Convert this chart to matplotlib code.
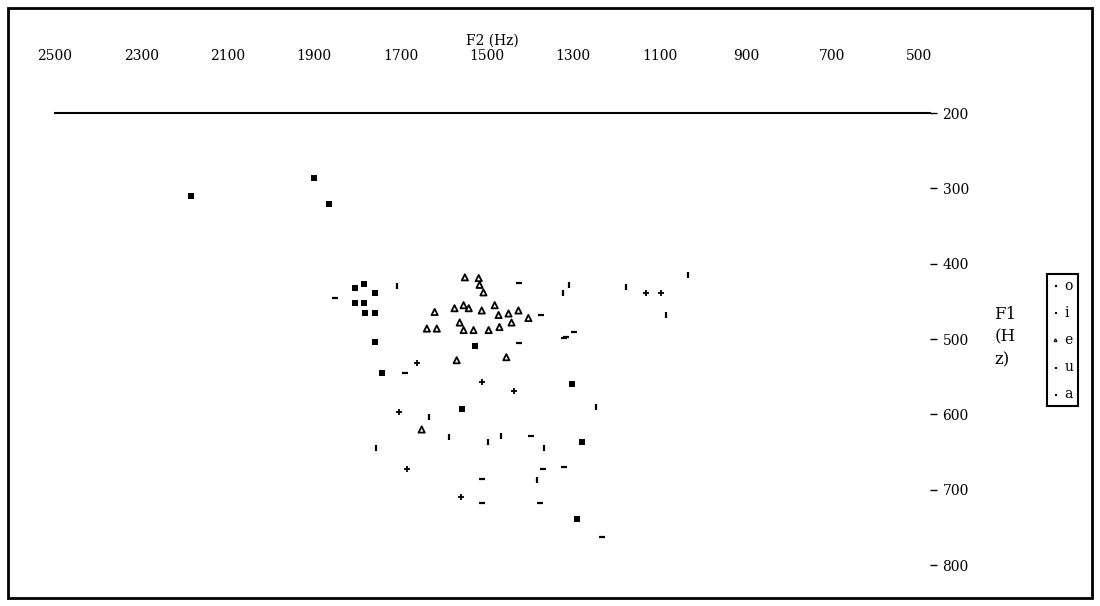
import matplotlib
matplotlib.use("Agg")
import matplotlib.pyplot as plt
from matplotlib.patches import Rectangle

plt.rcParams['font.family'] = ['DejaVu Serif']

# vowel groups: (F2, F1) in Hz
i_f2 = [2186, 1900, 1865, 1785, 1805, 1759, 1805, 1785, 1782, 1759, 1759, 1743,
        1528, 1304, 1279, 1291, 1558]
i_f1 = [310, 286, 321, 427, 432, 439, 452, 452, 466, 466, 504, 545,
        509, 559, 637, 739, 593]

e_f2 = [1551, 1519, 1517, 1508, 1621, 1639, 1616, 1575, 1554, 1542, 1563, 1554,
        1531, 1512, 1496, 1482, 1473, 1471, 1450, 1443, 1427, 1404, 1570, 1455, 1651]
e_f1 = [418, 419, 428, 438, 464, 486, 486, 459, 455, 459, 478, 488,
        488, 462, 488, 455, 468, 484, 466, 478, 462, 472, 528, 524, 620]

a_f2 = [1662, 1097, 1704, 1512, 1685, 1561, 1438, 1131]
a_f1 = [532, 439, 597, 557, 673, 710, 569, 439]

u_f2 = [1708, 1323, 1311, 1178, 1035, 1085, 1247, 1635, 1588, 1498, 1468, 1367, 1383, 1757]
u_f1 = [430, 439, 428, 431, 415, 468, 590, 604, 630, 637, 628, 644, 687, 645]

o_f2 = [1851, 1690, 1374, 1321, 1298, 1425, 1425, 1316, 1399, 1371, 1321, 1512,
        1512, 1378, 1233]
o_f1 = [446, 545, 468, 499, 491, 426, 505, 497, 628, 673, 670, 686,
        717, 717, 763]

x_ticks = [2500, 2300, 2100, 1900, 1700, 1500, 1300, 1100, 900, 700, 500]
y_ticks = [200, 300, 400, 500, 600, 700, 800]

fig = plt.figure(figsize=(11, 6.06), dpi=100)
ax = fig.add_axes([0.05, 0.0264, 0.7955, 0.787])

h_o = ax.scatter(o_f2, o_f1, marker='_', s=16, color='k', linewidths=1.6)
h_i = ax.scatter(i_f2, i_f1, marker='s', s=18, color='k', linewidths=0)
h_e = ax.scatter(e_f2, e_f1, marker='^', s=20, facecolor='none', edgecolor='k', linewidths=1.3)
h_u = ax.scatter(u_f2, u_f1, marker='|', s=20, color='k', linewidths=1.6)
h_a = ax.scatter(a_f2, a_f1, marker='+', s=20, color='k', linewidths=1.3)

ax.set_xlim(2493, 474)
ax.set_ylim(833, 200)
ax.set_xticks(x_ticks)
ax.set_yticks(y_ticks)

for s in ['left', 'right', 'bottom']:
    ax.spines[s].set_visible(False)
ax.spines['top'].set_linewidth(1.5)

ax.xaxis.set_ticks_position('top')
ax.xaxis.set_label_position('top')
ax.tick_params(axis='x', length=0, pad=36, labelsize=10)
ax.yaxis.set_ticks_position('right')
ax.tick_params(axis='y', length=5, width=1, pad=4, labelsize=10)
ax.set_xlabel('F2 (Hz)', fontsize=10, labelpad=3)

fig.text(0.904, 0.444, 'F1\n(H\nz)', fontsize=12, ha='left', va='center',
         linespacing=1.45)

fig.legend([h_o, h_i, h_e, h_u, h_a], ['o', 'i', 'e', 'u', 'a'],
           loc='center left', bbox_to_anchor=(0.952, 0.439),
           fontsize=10, markerscale=0.3, handlelength=0.5, handletextpad=0.4,
           labelspacing=0.95, borderpad=0.35, borderaxespad=0,
           frameon=True, fancybox=False, edgecolor='k', framealpha=1)
leg = fig.legends[0]
leg.get_frame().set_linewidth(1.5)

fig.patches.append(Rectangle((8 / 1100, 8 / 606), 1084 / 1100, 590 / 606,
                             transform=fig.transFigure, fill=False,
                             edgecolor='k', linewidth=2))

fig.savefig('out.png', dpi=100)
